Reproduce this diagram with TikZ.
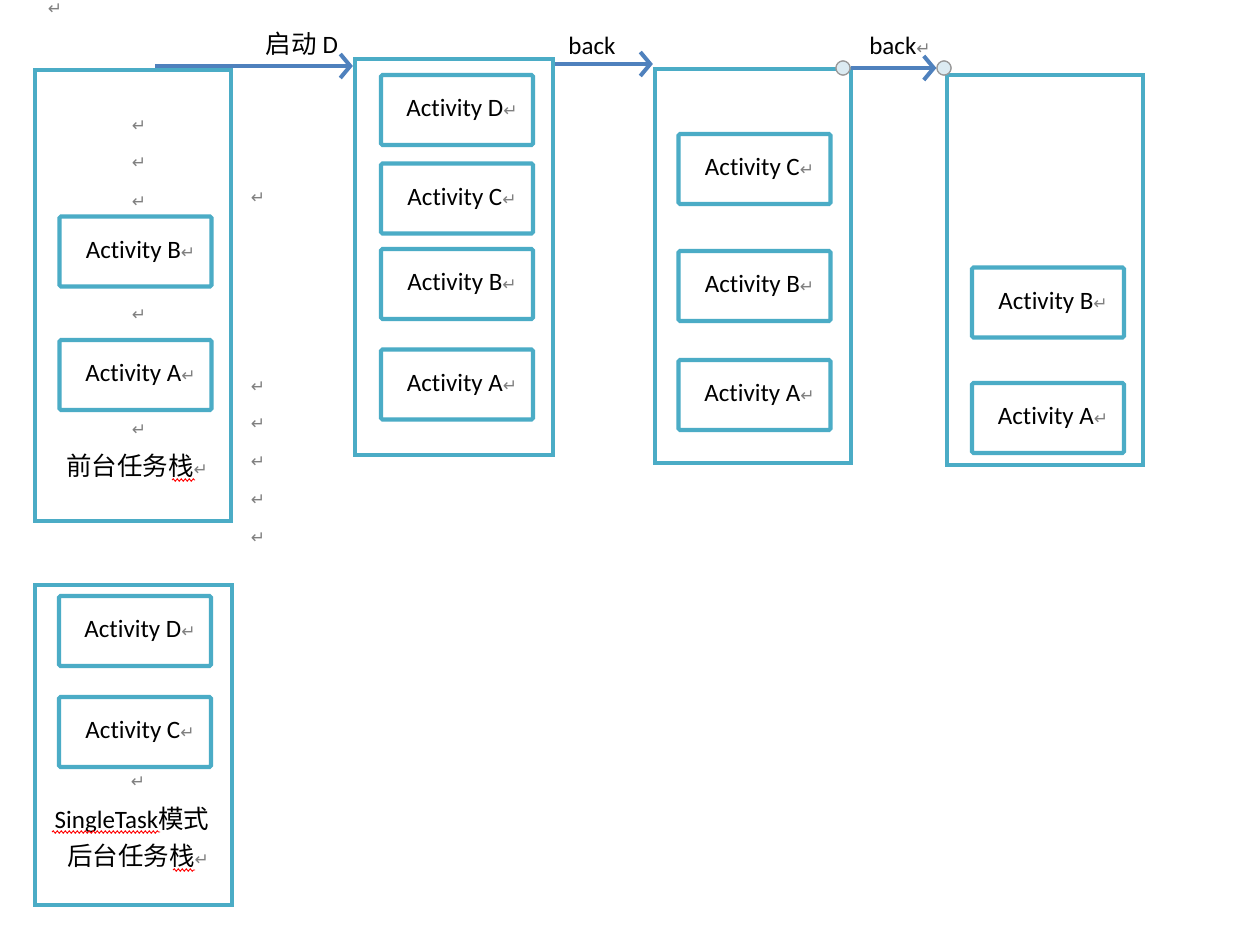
\documentclass[tikz,border=0pt]{standalone}
\usepackage{fontspec}
\setmainfont{Carlito}[Ligatures=NoCommon]
\newfontfamily\cjk{Noto Sans CJK SC}
\newfontfamily\dvs{DejaVu Sans}
\usetikzlibrary{arrows.meta,decorations.pathmorphing,calc}
\definecolor{boxc}{HTML}{4BACC6}
\definecolor{arrc}{HTML}{4F81BD}
\definecolor{retc}{HTML}{808080}
\definecolor{circf}{HTML}{DCEBF2}
\newcommand{\retmark}{{\dvs\color{retc}\fontsize{17}{17}\selectfont ↵}}
\begin{document}
\begin{tikzpicture}[x=1pt,y=-1pt,
  stack/.style={draw=boxc,line width=4.2pt,rectangle,inner sep=0pt},
  act/.style={draw=boxc,line width=4.2pt,rounded corners=1.5pt,minimum width=152pt,minimum height=70pt,inner sep=0pt,font=\fontsize{25}{29}\selectfont},
  lbl/.style={inner sep=0pt,font=\fontsize{25}{29}\selectfont},
  cn/.style={inner sep=0pt,font=\cjk\fontsize{25.5}{30}\selectfont},
  rt/.style={inner sep=0pt},
  arr/.style={draw=arrc,line width=4pt,-{Straight Barb[length=10pt,width=24pt]}},
  knob/.style={circle,draw=gray!80,fill=circf,line width=1.2pt,minimum size=14pt,inner sep=0pt},
  squig/.style={draw=red,line width=0.9pt,decorate,decoration={snake,segment length=4pt,amplitude=1.2pt}}]
\useasboundingbox[fill=white] (0,0) rectangle (1253,926);

% stacks
\node[stack,minimum width=196pt,minimum height=451pt] (box1) at (133,295.5) {};
\node[stack,minimum width=197pt,minimum height=320pt] (box5) at (133.5,745) {};
\node[stack,minimum width=198pt,minimum height=396pt] (box2) at (454,257) {};
\node[stack,minimum width=196pt,minimum height=394pt] (box3) at (753,266) {};
\node[stack,minimum width=196pt,minimum height=390pt] (box4) at (1045,270) {};

% activities
\node[act] (b1B) at (135.5,251.5) {\hspace{10pt}Activity B\retmark};
\node[act] (b1A) at (135.5,375) {\hspace{10pt}Activity A\retmark};

\node[act] (b5D) at (135,631) {\hspace{10pt}Activity D\retmark};
\node[act] (b5C) at (135,732) {\hspace{10pt}Activity C\retmark};

\node[act] (b2D) at (457,110) {\hspace{10pt}Activity D\retmark};
\node[act] (b2C) at (457,198.5) {\hspace{10pt}Activity C\retmark};
\node[act] (b2B) at (457,284) {\hspace{10pt}Activity B\retmark};
\node[act] (b2A) at (457,384.5) {\hspace{10pt}Activity A\retmark};

\node[act] (b3C) at (754.5,169) {\hspace{10pt}Activity C\retmark};
\node[act] (b3B) at (754.5,286) {\hspace{10pt}Activity B\retmark};
\node[act] (b3A) at (754.5,395) {\hspace{10pt}Activity A\retmark};

\node[act] (b4B) at (1048,302.5) {\hspace{10pt}Activity B\retmark};
\node[act] (b4A) at (1048,418) {\hspace{10pt}Activity A\retmark};

% stack captions
\node[cn] (cap1) at (137,466) {前台任务栈\retmark};
\node[lbl] (cap5a) at (132,820) {SingleTask{\cjk\fontsize{25.5}{30}\selectfont 模式}};
\node[cn] (cap5b) at (138,856) {后台任务栈\retmark};

% squiggles (spell-check marks)
\draw[squig] (172,480) -- (195,480);
\draw[squig] (52,832) -- (160,832);
\draw[squig] (173,870) -- (195,870);

% paragraph marks
\node[rt] (r0) at (55,9) {\retmark};
\node[rt] (r1) at (139,126) {\retmark};
\node[rt] (r2) at (139,163) {\retmark};
\node[rt] (r3) at (139,202) {\retmark};
\node[rt] (r4) at (139,315) {\retmark};
\node[rt] (r5) at (139,430) {\retmark};
\node[rt] (r6) at (258,198) {\retmark};
\node[rt] (r7) at (258,387) {\retmark};
\node[rt] (r8) at (258,424) {\retmark};
\node[rt] (r9) at (258,462) {\retmark};
\node[rt] (r10) at (258,500) {\retmark};
\node[rt] (r11) at (258,538) {\retmark};
\node[rt] (r12) at (138,782) {\retmark};

% arrows
\coordinate (s1) at (155,66);
\draw[arr] (s1) -- (box2.west |- s1);
\node[lbl] (l1) at (302,44) {{\cjk\fontsize{25.5}{30}\selectfont 启动} D};

\coordinate (a2) at (0,64);
\draw[arr] (box2.east |- a2) -- (box3.west |- a2);
\node[lbl] (l2) at (592,46) {back};

\node[knob] (c1) at (843,68) {};
\node[knob] (c2) at (944,68) {};
\draw[arr] (c1) -- (c2);
\node[knob] at (c1) {};
\node[knob] at (c2) {};
\node[lbl] (l3) at (900,46) {back\retmark};
\end{tikzpicture}
\end{document}
